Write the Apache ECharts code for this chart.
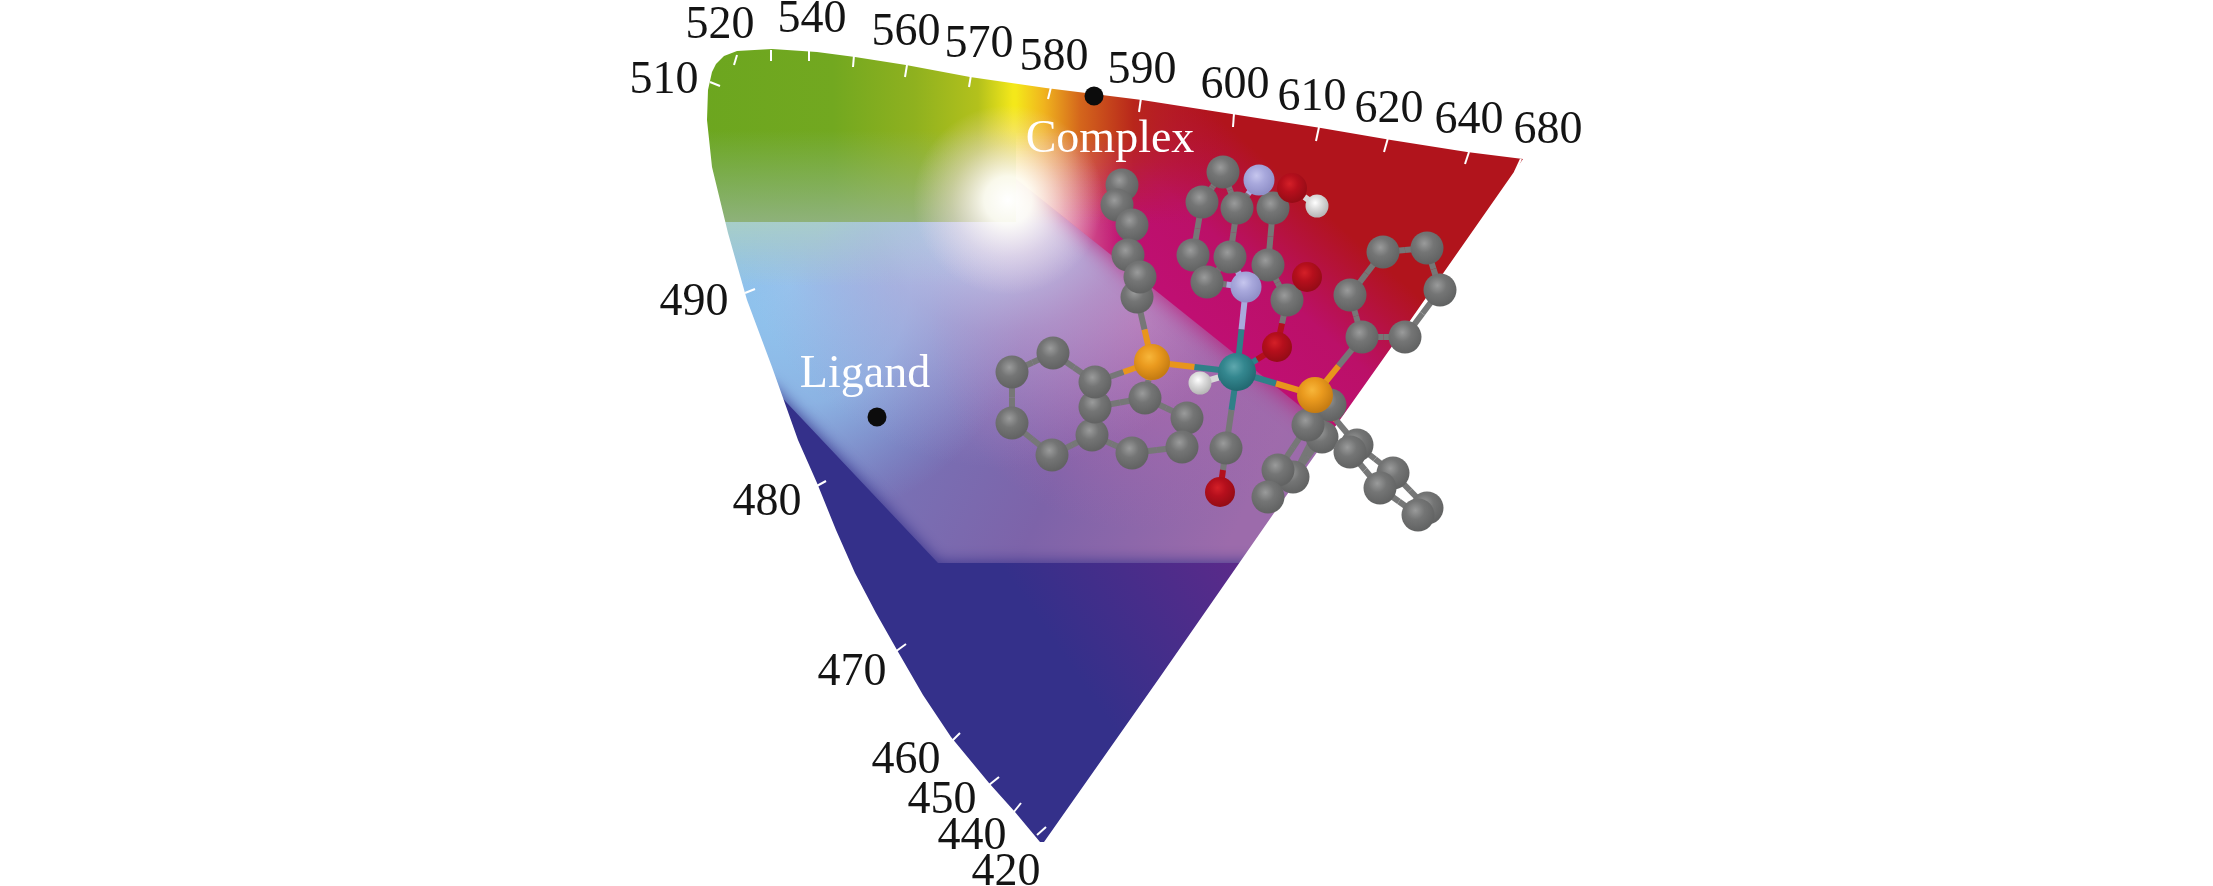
<!DOCTYPE html>
<html lang="en">

<head>
    <meta charset="UTF-8">
    <title>CIE diagram</title>
    <script src="https://cdn.jsdelivr.net/npm/echarts@6/dist/echarts.min.js"></script>
    <style>
        html, body { margin: 0; padding: 0; background: #fff; }
        #main { width: 2213px; height: 886px; }
    </style>
</head>

<body>
    <div id="main"></div>
    <script>
        // gamut boundary, running down the left side, up the right side, back along the top
        const gamutOutline = [
            [712, 72], [708, 90], [707, 120], [712, 167], [728, 233], [747, 300], [772, 367], [798, 440], [817, 483],
            [836, 530], [855, 573], [876, 613], [897, 650], [923, 695], [951, 737], [989, 783], [1015, 812], [1040, 842],
            [1044, 842], [1160, 677], [1274, 513], [1400, 335], [1523, 159],
            [1467, 152], [1391, 140], [1321, 128], [1238, 115], [1142, 100], [1046, 88], [970, 77],
            [906, 65], [855, 57], [817, 52], [772, 49], [737, 51], [724, 56], [716, 64]
        ];
        const wavelengths = [510, 520, 540, 560, 570, 580, 590, 600, 610, 620, 640, 680, 490, 480, 470, 460, 450, 440, 420];
        const labelX = [664, 720, 812, 906, 979, 1054, 1142, 1235, 1312, 1389, 1469, 1548, 694, 767, 852, 906, 942, 972, 1006];
        const labelY = [81, 26, 20, 33, 45, 58, 71, 86, 98, 110, 121, 131, 303, 503, 673, 761, 801, 837, 873];
        // tick start / end, same order as wavelengths, plus the three unlabelled ones on top
        const ticks = [
            [710, 82, 720, 86], [737, 55, 734, 65], [771, 50, 771, 61], [809, 51, 809, 61], [854, 55, 853, 67],
            [907, 65, 905, 77], [971, 75, 969, 87], [1051, 87, 1048, 99], [1141, 98, 1139, 112],
            [1234, 113, 1233, 127], [1319, 127, 1316, 141], [1388, 138, 1384, 152], [1469, 152, 1465, 164],
            [1521, 159, 1515, 172], [745, 293, 755, 289], [815, 487, 826, 481], [895, 652, 906, 644],
            [951, 742, 960, 733], [989, 785, 999, 777], [1013, 813, 1021, 803], [1037, 835, 1046, 827]
        ];
        const samplePoints = [[1094, 96], [877, 417]];
        const sampleNames = ['Complex', 'Ligand'];
        const sampleNameX = [1110, 865];
        const sampleNameY = [140, 375];

        // colour regions of the diagram
        const fieldBox = [[690, 30], [1540, 30], [1540, 880], [690, 880]];
        const redRegion = [[1000, 166], [1330, 430], [1560, 430], [1560, 30], [1000, 30]];
        const greenRegion = [[690, 30], [1016, 30], [1016, 222], [690, 222]];
        const paleRegion = [[1016, 120], [1125, 120], [1125, 266], [1016, 179]];
        const darkRegion = [[770, 385], [938, 563], [1270, 563], [1270, 890], [690, 890], [690, 385]];

        // molecule: x, y, element
        const atoms = [
            [1122, 185, 'C'], [1117, 205, 'C'], [1132, 225, 'C'], [1128, 255, 'C'], [1137, 297, 'C'], [1140, 277, 'C'],
            [1223, 172, 'C'], [1202, 202, 'C'], [1237, 208, 'C'], [1273, 208, 'C'],
            [1193, 255, 'C'], [1230, 257, 'C'], [1207, 282, 'C'], [1268, 265, 'C'], [1287, 300, 'C'],
            [1053, 353, 'C'], [1012, 372, 'C'], [1012, 423, 'C'], [1052, 455, 'C'], [1092, 435, 'C'], [1095, 407, 'C'], [1095, 382, 'C'],
            [1145, 398, 'C'], [1187, 418, 'C'], [1182, 447, 'C'], [1132, 453, 'C'], [1226, 448, 'C'],
            [1383, 252, 'C'], [1427, 248, 'C'], [1440, 290, 'C'], [1405, 337, 'C'], [1362, 337, 'C'], [1350, 295, 'C'],
            [1330, 405, 'C'], [1322, 437, 'C'], [1308, 425, 'C'], [1293, 477, 'C'], [1278, 470, 'C'], [1268, 497, 'C'],
            [1357, 445, 'C'], [1350, 452, 'C'], [1393, 473, 'C'], [1380, 488, 'C'], [1427, 508, 'C'], [1418, 515, 'C'],
            [1259, 180, 'N'], [1246, 287, 'N'],
            [1292, 188, 'O'], [1307, 277, 'O'], [1277, 347, 'O'], [1220, 492, 'O'],
            [1317, 206, 'H'], [1200, 383, 'H'],
            [1152, 362, 'P'], [1315, 395, 'P'],
            [1237, 372, 'Ru']
        ];
        // index pairs into atoms
        const bonds = [
            [0, 2], [1, 2], [2, 3], [3, 5], [5, 4], [4, 53],
            [6, 7], [6, 8], [7, 10], [8, 45], [8, 11], [9, 45], [9, 47], [47, 51], [9, 13], [10, 12], [11, 12], [11, 46], [12, 46], [13, 46],
            [13, 14], [14, 48], [14, 49], [49, 55], [46, 55],
            [15, 16], [16, 17], [17, 18], [18, 19], [19, 20], [20, 21], [21, 15], [21, 53],
            [22, 53], [20, 22], [22, 23], [23, 24], [24, 25], [25, 19],
            [53, 55], [52, 55], [55, 54], [55, 26], [26, 50],
            [27, 28], [28, 29], [29, 30], [30, 31], [31, 32], [32, 27], [31, 54],
            [54, 35], [54, 33], [35, 37], [33, 36], [34, 36], [37, 38], [36, 38], [35, 34],
            [54, 39], [39, 41], [40, 42], [41, 43], [42, 44], [39, 40], [43, 44]
        ];
        const elementColor = { C: '#767777', N: '#a9a9dc', O: '#b3101c', H: '#d8d8d8', P: '#e8951c', Ru: '#2f8088' };
        const elementSize = { C: 33, N: 31, O: 30, H: 23, P: 36, Ru: 38 };
        const atomShade = {
            C: ['#9a9b9b', '#747575', '#626363'],
            N: ['#c6c6ee', '#a8a8dc', '#9090c8'],
            O: ['#d42028', '#b50f1c', '#960c16'],
            H: ['#ffffff', '#dcdcdc', '#b8b8b8'],
            P: ['#f7b63a', '#ea9a1e', '#c67c12'],
            Ru: ['#5fa8ae', '#34878f', '#226a72']
        };

        function linear(x1, y1, x2, y2, stops) {
            return new echarts.graphic.LinearGradient(x1, y1, x2, y2, stops.map(function (s) {
                return { offset: s[0], color: s[1] };
            }), true);
        }

        function radial(x, y, r, stops) {
            return new echarts.graphic.RadialGradient(x, y, r, stops.map(function (s) {
                return { offset: s[0], color: s[1] };
            }), true);
        }

        // one polygon drawn through the axes
        let layerZ = 1;
        function polygonSeries(points, fill, extraStyle) {
            return {
                type: 'custom',
                coordinateSystem: 'cartesian2d',
                silent: true,
                z: layerZ++,
                data: [[0, 0]],
                renderItem: function (params, api) {
                    return {
                        type: 'polygon',
                        shape: { points: points.map(function (p) { return api.coord(p); }) },
                        style: Object.assign({ fill: fill }, extraStyle || {})
                    };
                }
            };
        }

        // a horizontal gradient that also fades out downward, in thin strips
        function fadingBand(x1, x2, yTop, yBottom, stops, startOpacity) {
            const strips = [];
            const fill = linear(x1, 0, x2, 0, stops);
            for (let y = yTop; y < yBottom; y += 3) {
                strips.push(polygonSeries([[x1, y], [x2, y], [x2, y + 3], [x1, y + 3]], fill, {
                    opacity: startOpacity * (1 - (y - yTop) / (yBottom - yTop))
                }));
            }
            return strips;
        }

        const warmStops = [[0, '#f4e81a'], [0.13, '#f0b41e'], [0.3, '#d4661c'], [0.55, '#b8261b'], [1, 'rgba(177,20,28,0)']];

        const series = [
            // pale centre of the diagram
            polygonSeries(fieldBox, linear(760, 300, 1240, 520, [[0, '#7f93cd'], [0.35, '#7872b6'], [0.65, '#7d63a9'], [1, '#9c6bab']])),
            polygonSeries(fieldBox, radial(790, 285, 240, [[0, 'rgba(145,200,240,1)'], [0.5, 'rgba(145,195,238,0.75)'], [1, 'rgba(130,170,225,0)']])),
            polygonSeries(fieldBox, radial(1140, 320, 210, [[0, 'rgba(190,110,175,0.85)'], [1, 'rgba(180,105,175,0)']])),
            polygonSeries(fieldBox, radial(1003, 198, 270, [[0, 'rgba(215,230,250,1)'], [0.12, 'rgba(205,220,245,0.95)'], [0.5, 'rgba(190,175,220,0.55)'], [1, 'rgba(180,150,210,0)']]))
        ].concat(
            // grey-green just under the green part, gone by the white spot
            fadingBand(690, 1010, 222, 285, [[0, 'rgba(170,208,195,0.9)'], [0.4, 'rgba(170,208,200,0.85)'], [1, 'rgba(170,215,230,0)']], 1),
            [
                // magenta to red
                polygonSeries(redRegion, linear(1190, 313, 1300, 190, [[0, '#bf0f72'], [0.45, '#bb1068'], [1, '#b1141c']]), { shadowBlur: 24, shadowColor: 'rgba(190,15,110,0.9)' }),
                // green to yellow across the top
                polygonSeries(greenRegion, linear(700, 0, 1016, 0, [[0, '#6ca61f'], [0.42, '#72a820'], [0.68, '#8fb11f'], [0.88, '#b3c11c'], [0.99, '#f4e81a'], [1, '#f4e81a']])),
                polygonSeries([[690, 130], [1016, 130], [1016, 222], [690, 222]], linear(0, 130, 0, 222, [[0, 'rgba(140,185,150,0)'], [1, 'rgba(150,180,145,0.8)']])),
                // keeps the red from showing through right of the yellow
                polygonSeries(paleRegion, linear(1016, 0, 1125, 0, [[0, 'rgba(252,240,225,1)'], [0.4, 'rgba(240,195,195,0.7)'], [1, 'rgba(225,150,160,0)']])),
                // yellow to orange to red, solid at the top
                polygonSeries([[1016, 30], [1230, 30], [1230, 130], [1016, 130]], linear(1016, 0, 1230, 0, warmStops))
            ],
            fadingBand(1016, 1230, 130, 222, warmStops, 1),
            [
                // soft white spot where the colours meet
                polygonSeries(fieldBox, radial(1008, 200, 95, [[0, 'rgba(255,255,255,1)'], [0.25, 'rgba(255,253,248,0.92)'], [0.6, 'rgba(250,228,235,0.45)'], [1, 'rgba(245,215,230,0)']])),
                // dark blue bottom
                polygonSeries(darkRegion, linear(1080, 680, 1240, 570, [[0, '#34308a'], [1, '#5a2a8a']]), { shadowBlur: 16, shadowColor: '#34308a' }),
                // everything outside the gamut stays white
                polygonSeries([[0, 0], [2213, 0], [2213, 886], [0, 886], [0, 0]].concat(gamutOutline, [gamutOutline[0], [0, 0]]), '#ffffff')
            ]
        );

        const topZ = layerZ;
        series.push(
            {
                type: 'lines',
                coordinateSystem: 'cartesian2d',
                silent: true,
                z: topZ,
                lineStyle: { color: '#fff', width: 2, opacity: 1 },
                data: ticks.map(function (t) { return { coords: [[t[0], t[1]], [t[2], t[3]]] }; })
            },
            {
                type: 'scatter',
                silent: true,
                z: topZ + 1,
                symbolSize: 1,
                itemStyle: { color: 'rgba(0,0,0,0)', opacity: 1 },
                label: {
                    show: true,
                    position: 'inside',
                    color: '#141414',
                    fontFamily: '"Liberation Serif"',
                    fontSize: 46,
                    formatter: function (p) { return p.value[2]; }
                },
                data: wavelengths.map(function (w, i) { return [labelX[i], labelY[i], String(w)]; })
            },
            {
                type: 'scatter',
                silent: true,
                z: topZ + 2,
                symbolSize: 19,
                itemStyle: { color: '#0c0c0c', opacity: 1 },
                data: samplePoints
            },
            {
                type: 'scatter',
                silent: true,
                z: topZ + 3,
                symbolSize: 1,
                itemStyle: { color: 'rgba(0,0,0,0)', opacity: 1 },
                label: {
                    show: true,
                    position: 'inside',
                    color: '#fff',
                    fontFamily: '"Liberation Serif"',
                    fontSize: 46,
                    formatter: function (p) { return p.value[2]; }
                },
                data: sampleNames.map(function (n, i) { return [sampleNameX[i], sampleNameY[i], n]; })
            }
        );

        // bonds: each half takes the colour of its own atom
        const bondHalves = [];
        bonds.forEach(function (b) {
            const p = atoms[b[0]];
            const q = atoms[b[1]];
            const mid = [(p[0] + q[0]) / 2, (p[1] + q[1]) / 2];
            bondHalves.push({ coords: [[p[0], p[1]], mid], lineStyle: { color: elementColor[p[2]] } });
            bondHalves.push({ coords: [mid, [q[0], q[1]]], lineStyle: { color: elementColor[q[2]] } });
        });
        series.push({
            type: 'lines',
            coordinateSystem: 'cartesian2d',
            silent: true,
            z: topZ + 4,
            lineStyle: { width: 6, opacity: 1 },
            data: bondHalves
        });

        // atoms as shaded balls, one series per element
        ['C', 'N', 'O', 'H', 'P', 'Ru'].forEach(function (el, i) {
            series.push({
                type: 'scatter',
                silent: true,
                z: topZ + 5 + i,
                symbolSize: elementSize[el],
                itemStyle: {
                    opacity: 1,
                    color: new echarts.graphic.RadialGradient(0.42, 0.36, 0.62, [
                        { offset: 0, color: atomShade[el][0] },
                        { offset: 0.45, color: atomShade[el][1] },
                        { offset: 1, color: atomShade[el][2] }
                    ])
                },
                data: atoms.filter(function (a) { return a[2] === el; }).map(function (a) { return [a[0], a[1]]; })
            });
        });

        const myChart = echarts.init(document.getElementById('main'));
        myChart.setOption({
            animation: false,
            backgroundColor: '#fff',
            grid: { left: 0, right: 0, top: 0, bottom: 0 },
            xAxis: { type: 'value', min: 0, max: 2213, show: false },
            yAxis: { type: 'value', min: 0, max: 886, inverse: true, show: false },
            series: series
        });
    </script>
</body>

</html>
